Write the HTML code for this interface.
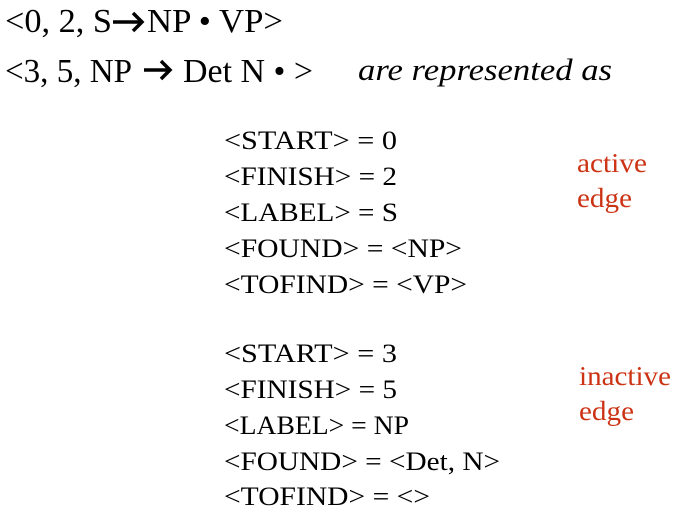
<!DOCTYPE html>
<html><head><meta charset="utf-8"><style>
html,body{margin:0;padding:0;background:#fff;}
svg{display:block;}
.s{font-family:"Liberation Serif",serif;fill:#000;}
.r{font-family:"Liberation Serif",serif;fill:#cc3314;font-size:27px;}
</style></head><body>
<svg width="679" height="513" viewBox="0 0 679 513" xmlns="http://www.w3.org/2000/svg">
<g class="s" font-size="34">
<text x="5" y="32" textLength="107" lengthAdjust="spacingAndGlyphs">&lt;0, 2, S</text>
<text x="147" y="32" textLength="136" lengthAdjust="spacingAndGlyphs">NP • VP&gt;</text>
<text x="5" y="82" textLength="127" lengthAdjust="spacingAndGlyphs">&lt;3, 5, NP</text>
<text x="183" y="82" textLength="130" lengthAdjust="spacingAndGlyphs">Det N • &gt;</text>
</g>
<g stroke="#000" stroke-width="3.5" fill="none" stroke-linecap="butt" stroke-linejoin="miter">
<line x1="113" y1="22" x2="142" y2="22"/>
<polyline points="133,13 142,22 133,31"/>
<line x1="144" y1="70" x2="170" y2="70"/>
<polyline points="161,61 170,70 161,79"/>
</g>
<text class="s" x="358" y="80" font-size="31" font-style="italic" textLength="254" lengthAdjust="spacingAndGlyphs">are represented as</text>

<g class="s" font-size="26">
<text x="224" y="149" textLength="173" lengthAdjust="spacingAndGlyphs">&lt;START&gt; = 0</text>
<text x="224" y="185" textLength="173" lengthAdjust="spacingAndGlyphs">&lt;FINISH&gt; = 2</text>
<text x="224" y="221" textLength="174" lengthAdjust="spacingAndGlyphs">&lt;LABEL&gt; = S</text>
<text x="224" y="257" textLength="238" lengthAdjust="spacingAndGlyphs">&lt;FOUND&gt; = &lt;NP&gt;</text>
<text x="224" y="293" textLength="243" lengthAdjust="spacingAndGlyphs">&lt;TOFIND&gt; = &lt;VP&gt;</text>
<text x="224" y="362" textLength="173" lengthAdjust="spacingAndGlyphs">&lt;START&gt; = 3</text>
<text x="224" y="398" textLength="173" lengthAdjust="spacingAndGlyphs">&lt;FINISH&gt; = 5</text>
<text x="224" y="434" textLength="185" lengthAdjust="spacingAndGlyphs">&lt;LABEL&gt; = NP</text>
<text x="224" y="470" textLength="276" lengthAdjust="spacingAndGlyphs">&lt;FOUND&gt; = &lt;Det, N&gt;</text>
<text x="224" y="505" textLength="206" lengthAdjust="spacingAndGlyphs">&lt;TOFIND&gt; = &lt;&gt;</text>
</g>

<text class="r" x="577" y="172" textLength="70" lengthAdjust="spacingAndGlyphs">active</text>
<text class="r" x="577" y="207" textLength="55" lengthAdjust="spacingAndGlyphs">edge</text>
<text class="r" x="579" y="385" textLength="92" lengthAdjust="spacingAndGlyphs">inactive</text>
<text class="r" x="579" y="420" textLength="55" lengthAdjust="spacingAndGlyphs">edge</text>
</svg>
</body></html>
